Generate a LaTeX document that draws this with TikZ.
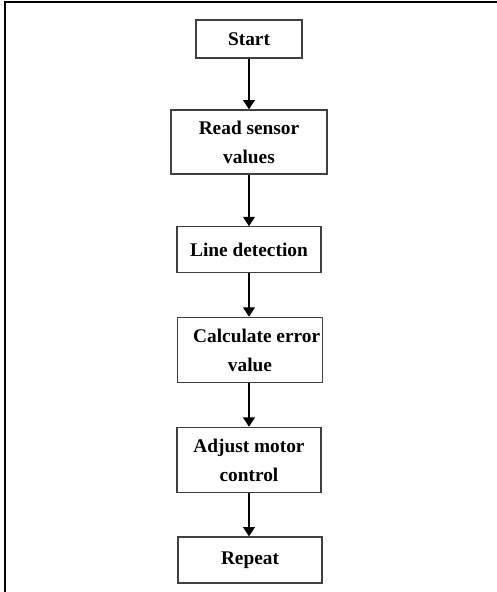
\documentclass[tikz,border=0pt]{standalone}
\usepackage{fontspec}
\setmainfont{Liberation Serif}
\usetikzlibrary{arrows.meta}

\tikzset{
  stepbox/.style={draw=black!75,line width=0.8pt,rectangle,align=center,
    font=\fontsize{14.5}{21.7}\selectfont\bfseries,inner sep=2pt},
  flow/.style={line width=2.1pt,-{Triangle[length=7pt,width=8.5pt]}}
}

\begin{document}
\begin{tikzpicture}

  \useasboundingbox (0,0) rectangle (372pt,-444pt);

  \draw[line width=1.6pt] (3.9pt,-450pt) -- (3.9pt,-1.7pt) -- (380pt,-1.7pt);

  \draw (186.75pt,-29.25pt) node[stepbox,minimum width=79.5pt,minimum height=28.5pt] (start) {Start};
\draw (186.75pt,-106.5pt) node[stepbox,minimum width=117pt,minimum height=48pt] (read) {Read sensor\\values};
\draw (186.75pt,-187.1pt) node[stepbox,minimum width=108pt,minimum height=34pt] (line) {Line detection};
\draw (187.5pt,-262.5pt) node[stepbox,minimum width=107pt,minimum height=49pt] (calc) {\hspace*{10pt}Calculate error\\value};
\draw (186.75pt,-345pt) node[stepbox,minimum width=108pt,minimum height=49pt] (adjust) {Adjust motor\\control};
\draw (187.5pt,-420pt) node[stepbox,minimum width=108pt,minimum height=34.5pt] (repeat) {Repeat};


  \draw[flow] (start) -- (read);
  \draw[flow] (read) -- (line);
  \draw[flow] (line) -- (line|-calc.north);
  \draw[flow] (calc.south-|line) -- (line|-adjust.north);
  \draw[flow] (adjust) -- (adjust|-repeat.north);

\end{tikzpicture}
\end{document}
